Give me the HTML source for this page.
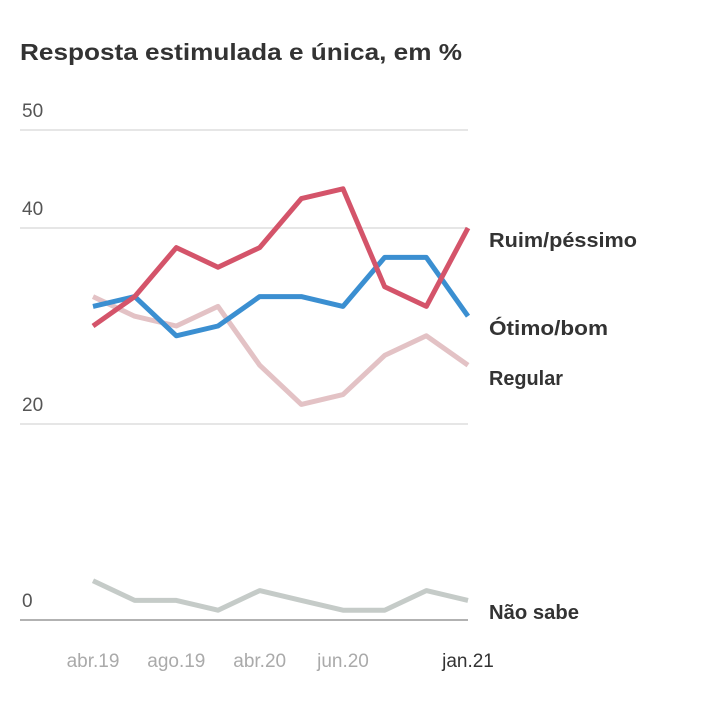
<!DOCTYPE html>
<html><head><meta charset="utf-8"><style>
body{margin:0;background:#fff;font-family:"Liberation Sans",sans-serif;}
</style></head><body>
<svg width="720" height="708" viewBox="0 0 720 708" style="display:block">
<text x="20" y="60" font-size="23" font-weight="bold" fill="#333" textLength="442" lengthAdjust="spacingAndGlyphs">Resposta estimulada e única, em %</text>
<g id="grid"></g><g id="series"></g><g id="xlabels"></g>
</svg>
<script>
const categories=["abr.19","jun.19","ago.19","dez.19","abr.20","mai.20","jun.20","ago.20","dez.20","jan.21"];
const xTickLabels=["abr.19","ago.19","abr.20","jun.20","jan.21"];
const yTicks=[0,20,40,50];
const ruim=[30,33,38,36,38,43,44,34,32,40];
const otimo=[32,33,29,30,33,33,32,37,37,31];
const regular=[33,31,30,32,26,22,23,27,29,26];
const naoSabe=[4,2,2,1,3,2,1,1,3,2];
const NS="http://www.w3.org/2000/svg";
const x0=93,x1=468,xl=20,xr=468;
const xs=i=>x0+(x1-x0)*i/(categories.length-1);
const ys=v=>620-v*9.8;
function mk(t,a,p){const e=document.createElementNS(NS,t);for(const k in a)e.setAttribute(k,a[k]);p.appendChild(e);return e;}
const grid=document.getElementById('grid');
yTicks.forEach(v=>{
 const l=mk('line',{x1:xl,x2:xr,y1:ys(v),y2:ys(v),stroke:v===0?'#999':'#ddd','stroke-width':1.5},grid);
 
 
 const t=mk('text',{x:22,y:ys(v)-13,'font-size':19,fill:'#555'},grid);t.textContent=v;
 
 
});
const g=document.getElementById('series');
const ser=[[regular,'#e3c2c5','Regular','regular',74],[naoSabe,'#c5cbc8','Não sabe','nao-sabe',90],[otimo,'#3b8fd1','Ótimo/bom','otimo-bom',119],[ruim,'#d4546a','Ruim/péssimo','ruim-pessimo',148]];
const labY={'ruim-pessimo':247,'otimo-bom':335,'regular':385,'nao-sabe':619};
ser.forEach(([d,c,name,id,w])=>{
 const p=mk('polyline',{points:d.map((v,i)=>xs(i)+','+ys(v)).join(' '),fill:'none',stroke:c,'stroke-width':5,'stroke-linejoin':'round'},g);
 
 
 const t=mk('text',{x:489,y:labY[id],'font-size':20,'font-weight':'bold',fill:'#333',textLength:w,lengthAdjust:'spacingAndGlyphs'},g);t.textContent=name;
 
 
});
const xg=document.getElementById('xlabels');
xTickLabels.forEach(lbl=>{
 const i=categories.indexOf(lbl);
 const last=lbl==="jan.21";
 const t=mk('text',{x:xs(i),y:667,'font-size':19,'text-anchor':'middle',fill:last?'#333':'#aaa'},xg);t.textContent=lbl;
 
 
});
</script>
</body></html>
